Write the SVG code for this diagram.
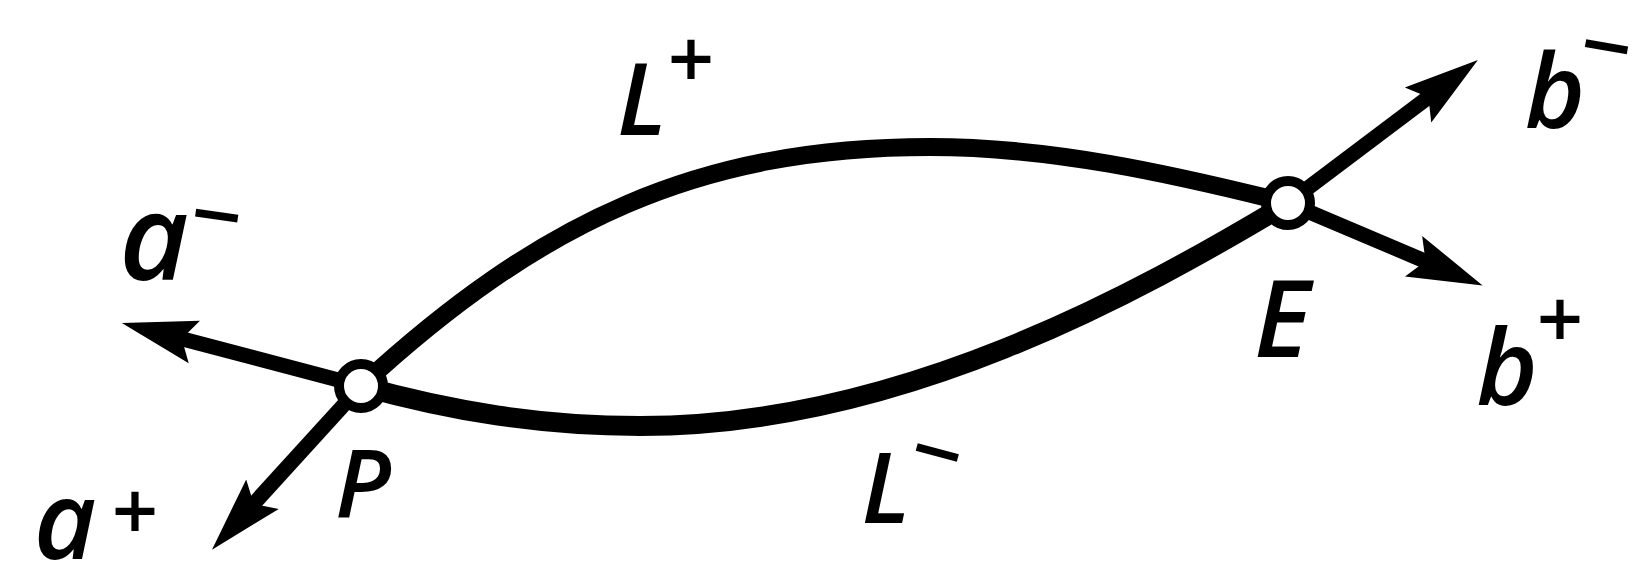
<svg xmlns="http://www.w3.org/2000/svg" width="1643" height="571" viewBox="0 0 1643 571">
<style>
.curve{fill:none;stroke:#000;stroke-linecap:round}
.shaft{fill:none;stroke:#000;stroke-width:15}
.node{fill:#fff;stroke:#000;stroke-width:10}
.lbl{font-family:"Open Sans","DejaVu Sans",sans-serif;font-style:italic;font-weight:600;fill:#000;text-anchor:middle}
.sgn{font-family:"DejaVu Sans","Open Sans",sans-serif;font-weight:700;fill:#000;text-anchor:middle}
</style>
<defs>
<marker id="ah" markerUnits="userSpaceOnUse" markerWidth="80" markerHeight="50" viewBox="0 -25 80 50" refX="20" refY="0" orient="auto">
<path d="M75,0 L0,-22 L13,0 L0,22 Z" fill="#000"/>
</marker>
</defs>
<rect width="1643" height="571" fill="#fff"/>
<g id="connectors">
<path id="L-plus" class="curve" stroke-width="18" d="M361,386 C541,220 700,147 930,147 C1050,147 1168,173 1288,203"/>
<path id="L-minus" class="curve" stroke-width="20" d="M361,386 C451,411 540,426 640,426 C900,426 1138,293 1288,203"/>
<line id="a-minus" class="shaft" x1="361" y1="386" x2="175" y2="337" marker-end="url(#ah)"/>
<line id="a-plus" class="shaft" x1="361" y1="386" x2="249" y2="509" marker-end="url(#ah)"/>
<line id="b-minus" class="shaft" x1="1288" y1="203" x2="1434" y2="93" marker-end="url(#ah)"/>
<line id="b-plus" class="shaft" x1="1288" y1="203" x2="1432" y2="264" marker-end="url(#ah)"/>
</g>
<g id="node-P">
<circle class="node" cx="361" cy="386" r="22"/>
<text class="lbl" x="363" y="517" font-size="95">P</text>
</g>
<g id="node-E">
<circle class="node" cx="1288" cy="203" r="22"/>
<text class="lbl" x="1282" y="357" font-size="106">E</text>
</g>
<g id="labels">
<text class="lbl" x="642" y="135" font-size="100">L</text>
<text class="sgn" x="691" y="79" font-size="62">+</text>
<text class="lbl" x="886" y="523" font-size="98">L</text>
<text class="sgn" x="938" y="474" font-size="68" transform="rotate(15 938 450)">−</text>
<text class="lbl" x="154" y="280" font-size="120">a</text>
<text class="sgn" x="217" y="237" font-size="68" transform="rotate(8 217 213)">−</text>
<text class="lbl" x="65" y="559" font-size="108">a</text>
<text class="sgn" x="135" y="531" font-size="62">+</text>
<text class="lbl" x="1555" y="128" font-size="103">b</text>
<text class="sgn" x="1607" y="68" font-size="68" transform="rotate(10 1607 44)">−</text>
<text class="lbl" x="1507" y="405" font-size="105">b</text>
<text class="sgn" x="1560" y="339" font-size="62">+</text>
</g>
</svg>
